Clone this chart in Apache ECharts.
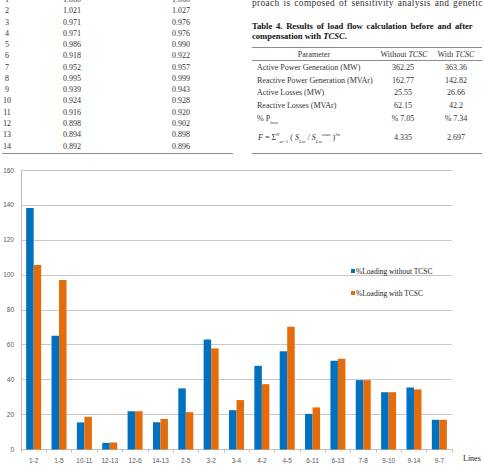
<!DOCTYPE html>
<html>
<head>
<meta charset="utf-8">
<script src="https://cdn.jsdelivr.net/npm/echarts@6/dist/echarts.min.js"></script>
<style>
  html, body { margin: 0; padding: 0; background: #fff; }
  #page { position: relative; width: 484px; height: 472px; overflow: hidden; }
  #chart { position: absolute; left: 0; top: 0; width: 484px; height: 472px; }
  .t { position: absolute; font-family: "Liberation Serif", "DejaVu Serif", serif; font-size: 8px; color: #333; line-height: 11px; white-space: nowrap; z-index: 2; }
  .c { transform: translateX(-50%); }
  .rule { position: absolute; height: 1px; background: #8c8c8c; z-index: 2; }
  .cap { font-weight: bold; font-size: 8.6px; color: #111; }
  sub, sup { font-size: 5px; line-height: 0; }
</style>
</head>
<body>
<div id="page">
  <div id="chart"></div>
  <div id="overlay"></div>
</div>
<script>
// bus voltages table (left)
const busNo = ['1', '2', '3', '4', '5', '6', '7', '8', '9', '10', '11', '12', '13', '14']
const vWithout = ['1.060', '1.021', '0.971', '0.971', '0.986', '0.918', '0.952', '0.995', '0.939', '0.924', '0.916', '0.898', '0.894', '0.892']
const vWith = ['1.060', '1.027', '0.976', '0.976', '0.990', '0.922', '0.957', '0.999', '0.943', '0.928', '0.920', '0.902', '0.898', '0.896']

// table 4 (right)
const params = ['Active Power Generation (MW)', 'Reactive Power Generation (MVAr)', 'Active Losses (MW)', 'Reactive Losses (MVAr)', '% P<sub>loss</sub>']
const pWithout = ['362.25', '162.77', '25.55', '62.15', '% 7.05', '4.335']
const pWith = ['363.36', '142.82', '26.66', '42.2', '% 7.34', '2.697']

// chart data
const lines = ['1-2', '1-5', '10-11', '12-13', '12-6', '14-13', '2-5', '3-2', '3-4', '4-2', '4-5', '6-11', '6-13', '7-8', '9-10', '9-14', '9-7']
const loadingWithout = [138.3, 65.1, 15.5, 3.8, 21.9, 15.6, 35.0, 63.0, 22.5, 47.9, 56.3, 20.4, 50.8, 39.7, 32.8, 35.5, 17.0]
const loadingWith = [105.6, 97.0, 18.7, 4.0, 21.9, 17.5, 21.4, 57.9, 28.3, 37.4, 70.3, 24.1, 51.9, 39.7, 32.8, 34.4, 17.0]
const yTicks = [0, 20, 40, 60, 80, 100, 120, 140, 160]

const serif = "'Liberation Serif', 'Times New Roman', serif"
const sans = "'Liberation Sans', Arial, sans-serif"

const overlay = document.getElementById('overlay')
const put = (html, x, yc, cls = '', extra = '') => {
  const d = document.createElement('div')
  d.className = 't ' + cls
  d.style.left = x + 'px'
  d.style.top = (yc - 5.5) + 'px'
  if (extra) d.style.cssText += extra
  d.innerHTML = html
  overlay.appendChild(d)
}
const rule = (x, y, w) => {
  const d = document.createElement('div')
  d.className = 'rule'
  d.style.left = x + 'px'
  d.style.top = y + 'px'
  d.style.width = w + 'px'
  overlay.appendChild(d)
}

busNo.forEach((n, i) => {
  const y = -0.5 + i * 11.27
  put(n, 7, y, 'c')
  put(vWithout[i], 72, y, 'c')
  put(vWith[i], 181, y, 'c')
})
rule(2, 153, 231)

put('proach is composed of sensitivity analysis and genetic', 252, 3.5, '', 'font-size:9.4px;letter-spacing:0.35px;word-spacing:1.2px;')
put('Table 4. Results of load flow calculation before and after', 252, 26, 'cap', 'word-spacing:1.6px;')
put('compensation with <i>TCSC</i>.', 252, 36, 'cap')
rule(252, 47, 230)
put('Parameter', 314, 54, 'c')
put('Without <i>TCSC</i>', 404, 54, 'c')
put('With <i>TCSC</i>', 456, 54, 'c')
rule(252, 60, 230)
const rowY = [67, 80, 92, 105, 118, 137]
params.forEach((p, i) => put(p, 257, rowY[i]))
put('<i>F</i> = &Sigma;<sup><i>N</i></sup><sub><i>m</i>=1</sub> ( <i>S<sub>Lm</sub></i> / <i>S<sub>Lm</sub><sup>max</sup></i> )<sup>2<i>n</i></sup>', 258, 137)
pWithout.forEach((v, i) => put(v, 403, rowY[i], 'c'))
pWith.forEach((v, i) => put(v, 456, rowY[i], 'c'))
rule(252, 153, 230)

const chart = echarts.init(document.getElementById('chart'), null, { renderer: 'svg' })
chart.setOption({
  animation: false,
  grid: { left: 21, top: 170, width: 431, height: 279.5, containLabel: false },
  legend: {
    orient: 'vertical',
    left: 346,
    top: 262,
    itemWidth: 4,
    itemHeight: 4,
    itemGap: 14,
    icon: 'rect',
    textStyle: { fontFamily: serif, fontSize: 7.5, color: '#222', padding: [0, 0, 0, -4] },
    data: ['%Loading without TCSC', '%Loading with TCSC']
  },
  xAxis: {
    type: 'category',
    data: lines,
    name: 'Lines',
    nameLocation: 'end',
    nameGap: 11,
    nameTextStyle: { fontFamily: serif, fontSize: 8, color: '#222', verticalAlign: 'top', padding: [5, 0, 0, 0] },
    axisLine: { lineStyle: { color: '#bfbfbf' } },
    axisTick: { show: true, length: 3, lineStyle: { color: '#bfbfbf' } },
    axisLabel: { fontFamily: sans, fontSize: 6.5, color: '#595959', margin: 7 }
  },
  yAxis: {
    type: 'value',
    min: yTicks[0],
    max: yTicks[yTicks.length - 1],
    interval: 20,
    axisLine: { show: true, lineStyle: { color: '#bfbfbf' } },
    axisTick: { show: false },
    axisLabel: { fontFamily: sans, fontSize: 6.5, color: '#595959', margin: 7 },
    splitLine: { lineStyle: { color: '#c8c8c8', width: 1 } }
  },
  series: [
    {
      name: '%Loading without TCSC',
      type: 'bar',
      data: loadingWithout,
      barWidth: 7.5,
      barGap: '0%',
      itemStyle: { color: '#0070c0' }
    },
    {
      name: '%Loading with TCSC',
      type: 'bar',
      data: loadingWith,
      barWidth: 7.5,
      barGap: '0%',
      itemStyle: { color: '#e46c0a' }
    }
  ]
})
</script>
</body>
</html>
